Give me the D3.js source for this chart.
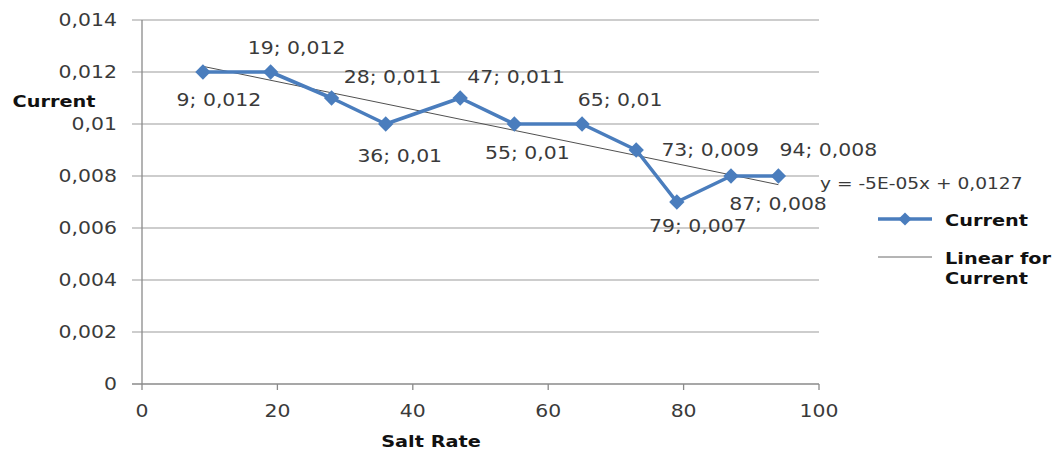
<!DOCTYPE html>
<html>
<head>
<meta charset="utf-8">
<script src="https://cdn.jsdelivr.net/npm/d3@7"></script>
<style>
  html, body { margin: 0; padding: 0; background: #fff; }
  svg { display: block; }
</style>
</head>
<body>
<svg id="chart" width="1056" height="450"></svg>
<script>
// Salt rate vs. measured current
const saltRate = [9, 19, 28, 36, 47, 55, 65, 73, 79, 87, 94];
const current  = [0.012, 0.012, 0.011, 0.010, 0.011, 0.010, 0.010, 0.009, 0.007, 0.008, 0.008];
const xTicks = [0, 20, 40, 60, 80, 100];
const yTicks = [0, 0.002, 0.004, 0.006, 0.008, 0.010, 0.012, 0.014];
const seriesName = "Current";
const trendName = ["Linear for", "Current"];
const xTitle = "Salt Rate";
const yTitle = "Current";

// label placement around each point (text centre dx, baseline dy)
const labelOffsets = [[16, 34], [26, -18], [61, -15], [14, 38], [56, -15], [13, 35],
                      [38, -18], [74, 6], [21, 30], [47, 34], [50, -20]];

const svg = d3.select("#chart");
const SX = 1.2; // horizontal text stretch
const FONT = "'DejaVu Sans', Verdana, sans-serif";
const blue = "#4a7dbd";

const x = d3.scaleLinear().domain([0, 100]).range([142, 819]);
const y = d3.scaleLinear().domain([0, 0.014]).range([384, 20]);

// comma decimal formatting
const fmt = v => String(+v.toFixed(4)).replace(".", ",");

function text(g, tx, ty, str, opts = {}) {
  return g.append("text")
    .attr("transform", `translate(${tx},${ty}) scale(${opts.sx || SX},1)`)
    .attr("text-anchor", opts.anchor || "middle")
    .attr("font-family", FONT)
    .attr("font-size", opts.size || 17)
    .attr("font-weight", opts.weight || "normal")
    .attr("fill", opts.fill || "#3a3a3a")
    .text(str);
}

// gridlines
svg.append("g").selectAll("line").data(yTicks).join("line")
  .attr("x1", 132).attr("x2", x(100))
  .attr("y1", d => y(d)).attr("y2", d => y(d))
  .attr("stroke", d => d === 0 ? "#8a8a8a" : "#bdbdbd").attr("stroke-width", 1.3);

// y axis line
svg.append("line").attr("x1", x(0)).attr("x2", x(0)).attr("y1", y(0.014)).attr("y2", y(0))
  .attr("stroke", "#8a8a8a").attr("stroke-width", 1.3);

// x axis ticks
svg.append("g").selectAll("line").data(xTicks).join("line")
  .attr("x1", d => x(d)).attr("x2", d => x(d)).attr("y1", y(0)).attr("y2", y(0) + 6)
  .attr("stroke", "#8a8a8a").attr("stroke-width", 1.3);

// tick labels
const tl = svg.append("g");
yTicks.forEach(t => text(tl, 117, y(t) + 6, fmt(t), { anchor: "end" }));
xTicks.forEach(t => text(tl, x(t), 417, String(t)));

// axis titles
const boldOpts = { weight: "bold", size: 16.5, fill: "#111", sx: 1.17 };
text(svg, 54, 107, yTitle, boldOpts);
text(svg, 431, 447, xTitle, boldOpts);

// least-squares trend line
const n = saltRate.length;
const mx = d3.mean(saltRate), my = d3.mean(current);
let sxy = 0, sxx = 0;
for (let i = 0; i < n; i++) {
  sxy += (saltRate[i] - mx) * (current[i] - my);
  sxx += (saltRate[i] - mx) ** 2;
}
const slope = sxy / sxx, intercept = my - slope * mx;
const x0 = d3.min(saltRate), x1 = d3.max(saltRate);
svg.append("line")
  .attr("x1", x(x0)).attr("y1", y(intercept + slope * x0))
  .attr("x2", x(x1)).attr("y2", y(intercept + slope * x1))
  .attr("stroke", "#505050").attr("stroke-width", 1);

// series line
const pts = saltRate.map((s, i) => [s, current[i]]);
svg.append("path")
  .attr("d", d3.line().x(d => x(d[0])).y(d => y(d[1]))(pts))
  .attr("fill", "none").attr("stroke", blue).attr("stroke-width", 3.6)
  .attr("stroke-linejoin", "round");

// diamond markers
const diamond = d3.symbol().type(d3.symbolDiamond2).size(150);
svg.append("g").selectAll("path").data(pts).join("path")
  .attr("d", diamond)
  .attr("transform", d => `translate(${x(d[0])},${y(d[1])})`)
  .attr("fill", blue);

// point labels
const lg = svg.append("g");
pts.forEach((d, i) => {
  const [dx, dy] = labelOffsets[i];
  text(lg, x(d[0]) + dx, y(d[1]) + dy, `${d[0]}; ${fmt(d[1])}`);
});

// trend equation
const eq = `y = ${slope.toExponential(0).replace("e", "E").replace("E-5", "E-05")}x + ${fmt(+intercept.toFixed(4))}`;
text(svg, 820, 189, eq, { anchor: "start", size: 15.5 });

// legend
svg.append("line").attr("x1", 878).attr("x2", 932).attr("y1", 219).attr("y2", 219)
  .attr("stroke", blue).attr("stroke-width", 3.6);
svg.append("path").attr("d", d3.symbol().type(d3.symbolDiamond2).size(110)())
  .attr("transform", "translate(905,219)").attr("fill", blue);
text(svg, 945, 226, seriesName, { ...boldOpts, anchor: "start" });
svg.append("line").attr("x1", 878).attr("x2", 932).attr("y1", 257).attr("y2", 257)
  .attr("stroke", "#6a6a6a").attr("stroke-width", 1);
text(svg, 945, 264, trendName[0], { ...boldOpts, anchor: "start" });
text(svg, 945, 284, trendName[1], { ...boldOpts, anchor: "start" });
</script>
</body>
</html>
